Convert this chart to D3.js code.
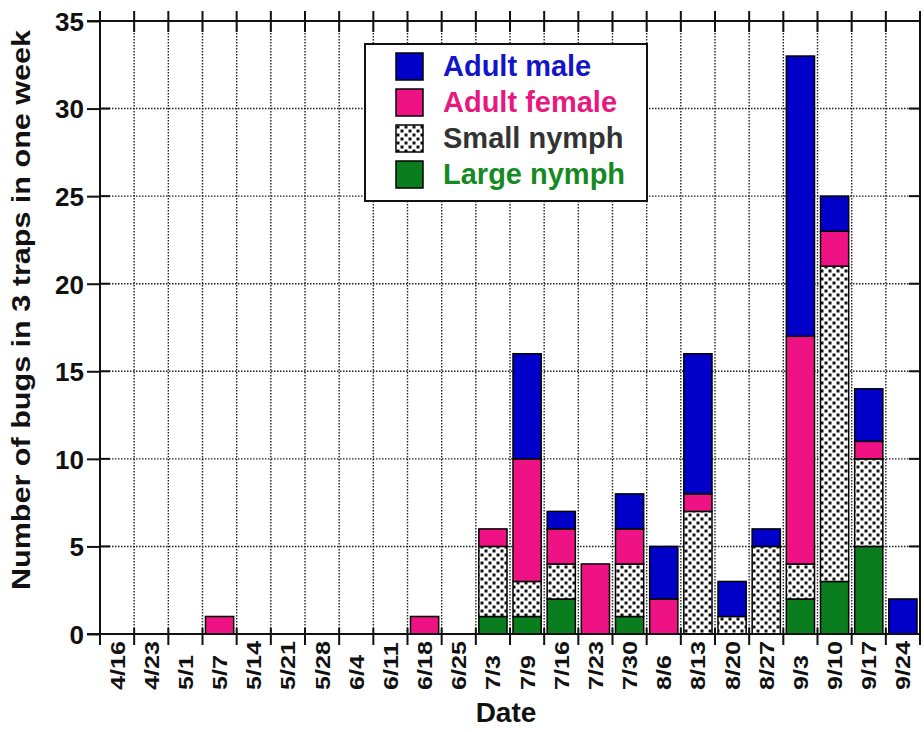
<!DOCTYPE html>
<html>
<head>
<meta charset="utf-8">
<script src="https://cdn.jsdelivr.net/npm/d3@7/dist/d3.min.js"></script>
<style>
  body { margin: 0; background: #fff; }
  text { font-family: "Liberation Sans", Arial, Helvetica, sans-serif; font-weight: bold; }
</style>
</head>
<body>
<div class="chart"></div>
<script>
var dates = ["4/16", "4/23", "5/1", "5/7", "5/14", "5/21", "5/28", "6/4", "6/11", "6/18", "6/25",
  "7/3", "7/9", "7/16", "7/23", "7/30", "8/6", "8/13", "8/20", "8/27", "9/3", "9/10", "9/17", "9/24"];

// stacked bottom to top: large nymph, small nymph, adult female, adult male
var largeNymph  = [0, 0, 0, 0, 0, 0, 0, 0, 0, 0, 0, 1, 1, 2, 0, 1, 0, 0, 0, 0, 2, 3, 5, 0];
var smallNymph  = [0, 0, 0, 0, 0, 0, 0, 0, 0, 0, 0, 4, 2, 2, 0, 3, 0, 7, 1, 5, 2, 18, 5, 0];
var adultFemale = [0, 0, 0, 1, 0, 0, 0, 0, 0, 1, 0, 1, 7, 2, 4, 2, 2, 1, 0, 0, 13, 2, 1, 0];
var adultMale   = [0, 0, 0, 0, 0, 0, 0, 0, 0, 0, 0, 0, 6, 1, 0, 2, 3, 8, 2, 1, 16, 2, 3, 2];

var seriesKeys = ["large", "small", "female", "male"];
var legendNames = ["Adult male", "Adult female", "Small nymph", "Large nymph"];
var legendKeys = ["male", "female", "small", "large"];
var yTicks = [0, 5, 10, 15, 20, 25, 30, 35];

var fills = { male: "#0000c8", female: "#ee1284", small: "url(#dots)", large: "#0a7d1e" };
var textColors = { male: "#1414c8", female: "#e8187f", small: "#333333", large: "#158a22" };

var svgWidth = 924;
var svgHeight = 732;
var margin = { top: 21, right: 4, bottom: 98, left: 100 };
var width = svgWidth - margin.left - margin.right;
var height = svgHeight - margin.top - margin.bottom;

var table = dates.map(function(d, i) {
  return { date: d, large: largeNymph[i], small: smallNymph[i], female: adultFemale[i], male: adultMale[i] };
});

var svg = d3.select(".chart")
  .append("svg")
  .attr("width", svgWidth)
  .attr("height", svgHeight);

// dotted fill for small nymphs
var pat = svg.append("defs").append("pattern")
  .attr("id", "dots")
  .attr("patternUnits", "userSpaceOnUse")
  .attr("width", 8)
  .attr("height", 8);
pat.append("rect").attr("width", 8).attr("height", 8).attr("fill", "#fff");
pat.append("rect").attr("x", 0.5).attr("y", 0.5).attr("width", 3).attr("height", 3).attr("fill", "#111");
pat.append("rect").attr("x", 4.5).attr("y", 4.5).attr("width", 3).attr("height", 3).attr("fill", "#111");

var chart = svg.append("g")
  .attr("transform", "translate(" + margin.left + "," + margin.top + ")");

var x = d3.scaleBand()
  .domain(dates)
  .range([0, width])
  .paddingInner(0.175)
  .paddingOuter(0.0875);

var y = d3.scaleLinear()
  .domain([0, 35])
  .range([height, 0]);

var step = x.step();
var bounds = d3.range(dates.length + 1).map(function(i) { return i * step; });

// grid
chart.append("g").selectAll("line")
  .data(bounds.slice(1, -1))
  .enter().append("line")
    .attr("x1", function(d) { return d; })
    .attr("x2", function(d) { return d; })
    .attr("y1", 0)
    .attr("y2", height)
    .attr("stroke", "#222")
    .attr("stroke-width", 1.4)
    .attr("stroke-dasharray", "1.5,1.5");

chart.append("g").selectAll("line")
  .data(yTicks.slice(1, -1))
  .enter().append("line")
    .attr("x1", 0)
    .attr("x2", width)
    .attr("y1", function(d) { return y(d); })
    .attr("y2", function(d) { return y(d); })
    .attr("stroke", "#222")
    .attr("stroke-width", 1.4)
    .attr("stroke-dasharray", "1.5,1.5");

// bars
var stacked = d3.stack().keys(seriesKeys)(table);

chart.append("g").selectAll("g")
  .data(stacked)
  .enter().append("g")
    .attr("fill", function(d) { return fills[d.key]; })
  .selectAll("rect")
  .data(function(d) { return d.filter(function(p) { return p[1] > p[0]; }); })
  .enter().append("rect")
    .attr("x", function(d) { return x(d.data.date); })
    .attr("y", function(d) { return y(d[1]); })
    .attr("width", x.bandwidth())
    .attr("height", function(d) { return y(d[0]) - y(d[1]); })
    .attr("stroke", "#000")
    .attr("stroke-width", 1.5);

// frame
var frame = chart.append("g").attr("stroke", "#111").attr("stroke-width", 2).attr("fill", "none");
frame.append("line").attr("x1", -13).attr("x2", width).attr("y1", 0).attr("y2", 0);
frame.append("line").attr("x1", -13).attr("x2", width).attr("y1", height).attr("y2", height);
frame.append("line").attr("x1", 0).attr("x2", 0).attr("y1", -10).attr("y2", height + 11);
frame.append("line").attr("x1", width).attr("x2", width).attr("y1", 0).attr("y2", height);

// crossing ticks on category boundaries (top and bottom)
frame.selectAll(".tt")
  .data(bounds)
  .enter().append("line")
    .attr("x1", function(d) { return d; })
    .attr("x2", function(d) { return d; })
    .attr("y1", -10)
    .attr("y2", 11);
frame.selectAll(".bt")
  .data(bounds)
  .enter().append("line")
    .attr("x1", function(d) { return d; })
    .attr("x2", function(d) { return d; })
    .attr("y1", height - 6)
    .attr("y2", height + 11);

// inner ticks on left and right
frame.selectAll(".lt")
  .data(yTicks)
  .enter().append("line")
    .attr("x1", 0).attr("x2", 10)
    .attr("y1", function(d) { return y(d); })
    .attr("y2", function(d) { return y(d); });
frame.selectAll(".rt")
  .data(yTicks)
  .enter().append("line")
    .attr("x1", width - 11).attr("x2", width)
    .attr("y1", function(d) { return y(d); })
    .attr("y2", function(d) { return y(d); });

// y axis
var leftAxis = d3.axisLeft(y).tickValues(yTicks).tickSize(13).tickPadding(3);
var ya = chart.append("g").call(leftAxis);
ya.select(".domain").remove();
ya.selectAll(".tick line").attr("stroke", "#111").attr("stroke-width", 2);
ya.selectAll("text")
  .attr("font-size", 26)
  .attr("font-family", "'Liberation Sans', Arial, sans-serif")
  .attr("font-weight", "bold")
  .attr("fill", "#111")
  .attr("dy", "0.36em");

// x axis labels
var bottomAxis = d3.axisBottom(x).tickSize(0);
var xa = chart.append("g")
  .attr("transform", "translate(0," + height + ")")
  .call(bottomAxis);
xa.select(".domain").remove();
xa.selectAll("text")
  .attr("font-size", 21)
  .attr("font-family", "'Liberation Sans', Arial, sans-serif")
  .attr("font-weight", "bold")
  .attr("fill", "#111")
  .attr("text-anchor", "start")
  .attr("x", 0)
  .attr("y", 0)
  .attr("dy", "0.36em")
  .attr("transform", "translate(0,56) rotate(-90) scale(1.2,1)");

// axis titles
chart.append("text")
  .attr("x", width / 2 - 4)
  .attr("y", height + 88)
  .attr("text-anchor", "middle")
  .attr("font-size", 28)
  .attr("fill", "#111")
  .text("Date");

svg.append("text")
  .attr("transform", "translate(30,310) rotate(-90)")
  .attr("text-anchor", "middle")
  .attr("font-size", 25)
  .attr("textLength", 560)
  .attr("lengthAdjust", "spacingAndGlyphs")
  .attr("fill", "#111")
  .text("Number of bugs in 3 traps in one week");

// legend
var legend = svg.append("g").attr("transform", "translate(365,44)");
legend.append("rect")
  .attr("width", 282)
  .attr("height", 157)
  .attr("fill", "#fff")
  .attr("stroke", "#111")
  .attr("stroke-width", 2);

var rows = legend.selectAll(".row")
  .data(legendKeys)
  .enter().append("g")
    .attr("transform", function(d, i) { return "translate(31," + (9 + i * 36) + ")"; });

rows.append("rect")
  .attr("width", 27)
  .attr("height", 27)
  .attr("fill", function(d) { return fills[d]; })
  .attr("stroke", "#000")
  .attr("stroke-width", 1.5);

rows.append("text")
  .attr("x", 47)
  .attr("y", 23)
  .attr("font-size", 29)
  .attr("fill", function(d) { return textColors[d]; })
  .text(function(d, i) { return legendNames[i]; });
</script>
</body>
</html>
